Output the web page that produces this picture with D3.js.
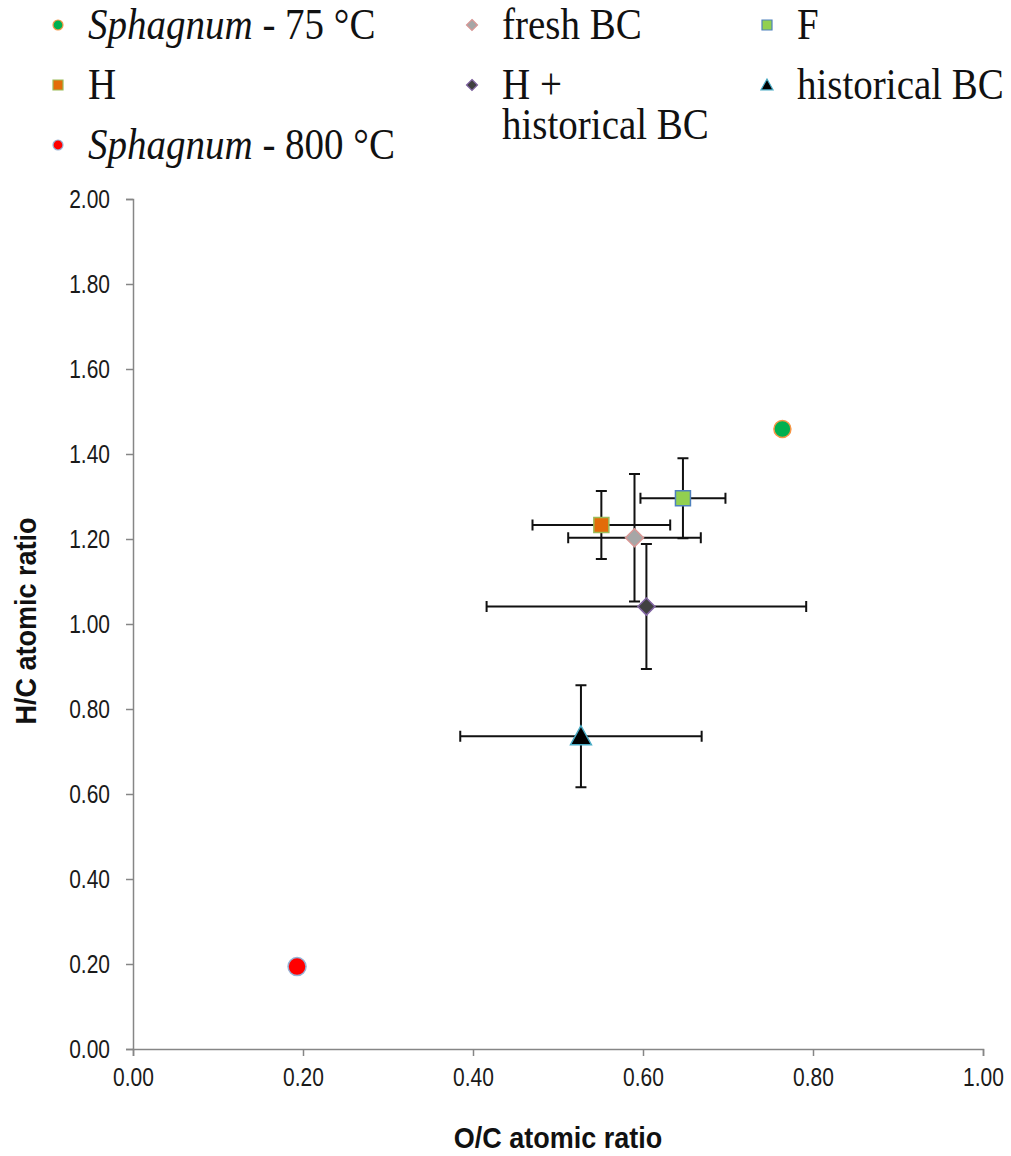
<!DOCTYPE html>
<html>
<head>
<meta charset="utf-8">
<script src="https://cdn.jsdelivr.net/npm/d3@7"></script>
<style>
  html, body { margin: 0; padding: 0; background: #fff; }
  svg { display: block; }
</style>
</head>
<body>
<svg id="chart" width="1011" height="1156"></svg>
<script>
// ---- data ----
const seriesNames = ["Sphagnum - 75 °C", "H", "Sphagnum - 800 °C", "fresh BC", "H + historical BC", "F", "historical BC"];
const ocValues   = [0.764, 0.551, 0.193, 0.590, 0.604, 0.647, 0.527];
const hcValues   = [1.459, 1.233, 0.194, 1.203, 1.041, 1.296, 0.736];
const ocErrors   = [0, 0.081, 0, 0.078, 0.188, 0.050, 0.142];
const hcErrors   = [0, 0.080, 0, 0.150, 0.147, 0.094, 0.120];
const xTicks = [0, 0.2, 0.4, 0.6, 0.8, 1.0];
const yTicks = [0, 0.2, 0.4, 0.6, 0.8, 1.0, 1.2, 1.4, 1.6, 1.8, 2.0];

// ---- styles ----
const markerStyle = {
  "Sphagnum - 75 °C":  {shape: "circle",   fill: "#00B050", stroke: "#F79646"},
  "H":                 {shape: "square",   fill: "#E36C09", stroke: "#9BBB59"},
  "Sphagnum - 800 °C": {shape: "circle",   fill: "#FF0000", stroke: "#95B3D7"},
  "fresh BC":          {shape: "diamond",  fill: "#A6A6A6", stroke: "#D99694"},
  "H + historical BC": {shape: "diamond",  fill: "#404040", stroke: "#8064A2"},
  "F":                 {shape: "square",   fill: "#92D050", stroke: "#4F81BD"},
  "historical BC":     {shape: "triangle", fill: "#000000", stroke: "#4BACC6"}
};

const svg = d3.select("#chart");
const x = d3.scaleLinear().domain([0, 1]).range([133, 983]);
const y = d3.scaleLinear().domain([0, 2]).range([1049, 199]);

function shapePath(shape, s) {
  if (shape === "circle") return d3.symbol(d3.symbolCircle, Math.PI * (s/2) * (s/2))();
  if (shape === "square") return d3.symbol(d3.symbolSquare, s * s)();
  if (shape === "diamond") { const h = s/2; return `M0,${-h}L${h},0L0,${h}L${-h},0Z`; }
  if (shape === "triangle") { const h = s; return `M0,${-h*0.55}L${h*0.55},${h*0.45}L${-h*0.55},${h*0.45}Z`; }
}
const plotSize = {circle: 17, square: 15, diamond: 18, triangle: 19};
const plotSizeByName = {"Sphagnum - 800 °C": 18, "H + historical BC": 17};
const legendSize = {circle: 10, square: 10, diamond: 11, triangle: 11};

// ---- axes ----
const axisColor = "#868686";
const tickScaleY = 1.2;
const xAxis = d3.axisBottom(x).tickValues(xTicks).tickFormat(d3.format(".2f")).tickSizeOuter(0).tickSize(7);
const yAxis = d3.axisLeft(y).tickValues(yTicks).tickFormat(d3.format(".2f")).tickSizeOuter(0).tickSize(7);

const gx = svg.append("g").attr("transform", `translate(0,${y(0)})`).call(xAxis);
const gy = svg.append("g").attr("transform", `translate(${x(0)},0)`).call(yAxis);
[gx, gy].forEach(g => {
  g.select(".domain").attr("stroke", axisColor).attr("stroke-width", 1.5);
  g.selectAll(".tick line").attr("stroke", axisColor).attr("stroke-width", 1.5);
  g.selectAll(".tick text").attr("fill", "#1a1a1a")
    .attr("font-family", "Liberation Sans, Arial, sans-serif").attr("font-size", 21)
    .attr("transform", `scale(1,${tickScaleY})`);
});
gx.selectAll(".tick text").attr("dy", null).attr("y", 37 / tickScaleY);
gy.selectAll(".tick text").attr("x", -23).attr("dy", "0.35em");

svg.append("text").attr("transform", "translate(558,1148) scale(1,1.08)").attr("text-anchor", "middle")
  .attr("font-family", "Liberation Sans, Arial, sans-serif").attr("font-weight", "bold").attr("font-size", 27)
  .attr("fill", "#111").text("O/C atomic ratio");
svg.append("text").attr("transform", "translate(36,621) rotate(-90) scale(1,1.08)").attr("text-anchor", "middle")
  .attr("font-family", "Liberation Sans, Arial, sans-serif").attr("font-weight", "bold").attr("font-size", 27)
  .attr("fill", "#111").text("H/C atomic ratio");

// ---- error bars ----
const data = seriesNames.map((n, i) => ({name: n, ox: ocValues[i], hy: hcValues[i], ex: ocErrors[i], ey: hcErrors[i]}));
const eb = svg.append("g").attr("stroke", "#111").attr("stroke-width", 2).attr("fill", "none");
const cap = 5.5;
data.filter(d => d.ex > 0 || d.ey > 0).forEach(d => {
  const cx = x(d.ox), cy = y(d.hy);
  const x1 = x(d.ox - d.ex), x2 = x(d.ox + d.ex);
  const y1 = y(d.hy + d.ey), y2 = y(d.hy - d.ey);
  eb.append("path").attr("d",
    `M${x1},${cy}H${x2}` +
    `M${x1},${cy-cap}V${cy+cap}M${x2},${cy-cap}V${cy+cap}` +
    `M${cx},${y1}V${y2}` +
    `M${cx-cap},${y1}H${cx+cap}M${cx-cap},${y2}H${cx+cap}`);
});

// ---- markers ----
svg.append("g").selectAll("path").data(data).join("path")
  .attr("transform", d => `translate(${x(d.ox)},${y(d.hy)})`)
  .attr("d", d => { const st = markerStyle[d.name]; return shapePath(st.shape, plotSizeByName[d.name] || plotSize[st.shape]); })
  .attr("fill", d => markerStyle[d.name].fill)
  .attr("stroke", d => markerStyle[d.name].stroke)
  .attr("stroke-width", 1.5);

// ---- legend ----
const legendCols = [58, 472, 767];
const legendRows = [25, 85, 145];
const legendScaleY = 1.15;
const legendLayout = [
  {name: "Sphagnum - 75 °C", col: 0, row: 0},
  {name: "H", col: 0, row: 1},
  {name: "Sphagnum - 800 °C", col: 0, row: 2},
  {name: "fresh BC", col: 1, row: 0},
  {name: "H + historical BC", col: 1, row: 1, lines: ["H +", "historical BC"]},
  {name: "F", col: 2, row: 0},
  {name: "historical BC", col: 2, row: 1}
];
const lg = svg.append("g");
legendLayout.forEach(item => {
  const mx = legendCols[item.col], my = legendRows[item.row];
  const st = markerStyle[item.name];
  lg.append("path").attr("transform", `translate(${mx},${my})`)
    .attr("d", shapePath(st.shape, legendSize[st.shape]))
    .attr("fill", st.fill).attr("stroke", st.stroke).attr("stroke-width", 1.2);
  const lines = item.lines || [item.name];
  lines.forEach((ln, k) => {
    const t = lg.append("text")
      .attr("transform", `translate(${mx + 30},${my + 14 + k * 40}) scale(1,${legendScaleY})`)
      .attr("font-family", "Liberation Serif, Times New Roman, serif").attr("font-size", 39).attr("fill", "#111");
    if (ln.startsWith("Sphagnum")) {
      t.append("tspan").attr("font-style", "italic").text("Sphagnum");
      t.append("tspan").text(ln.slice("Sphagnum".length));
    } else {
      t.text(ln);
    }
  });
});
</script>
</body>
</html>
